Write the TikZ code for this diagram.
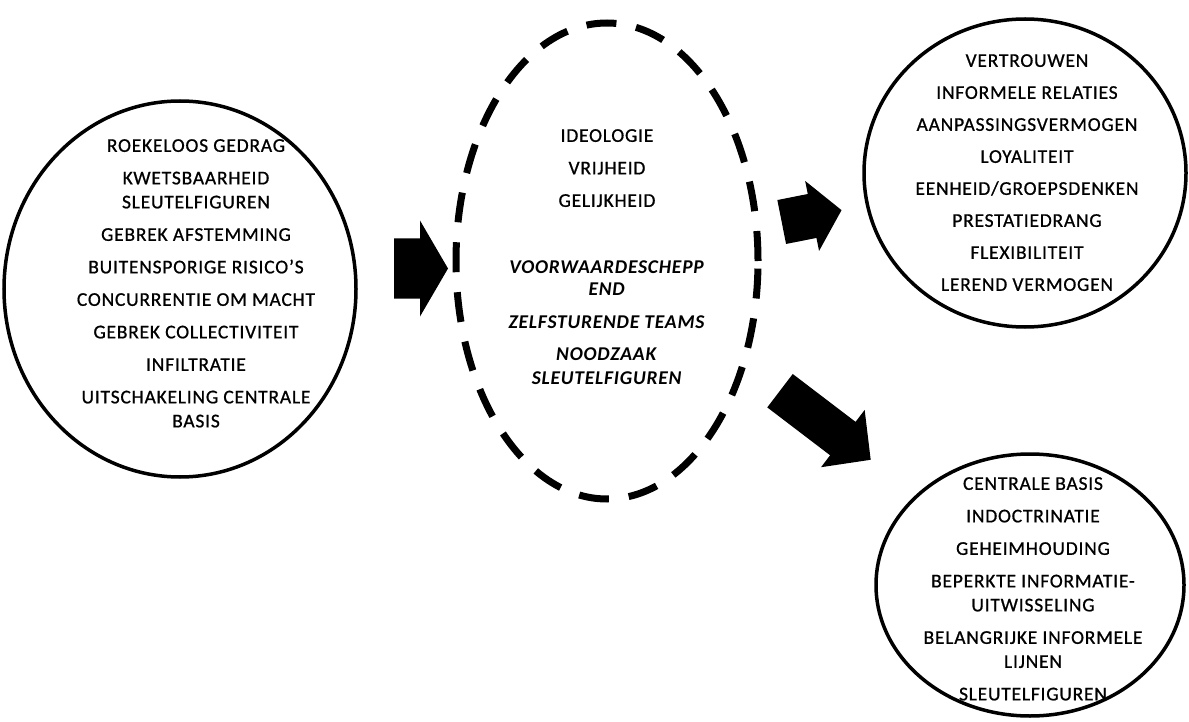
\documentclass[tikz,border=0pt]{standalone}
\usepackage{fontspec}
\setmainfont{Carlito}[LetterSpace=4, UprightFeatures={FakeBold=0.8}]
\usetikzlibrary{shapes.geometric}
\begin{document}
\begin{tikzpicture}[x=1pt,y=-1pt,
  ring/.style={draw, ellipse, line width=3.5pt, inner sep=0pt},
  dashring/.style={draw, ellipse, line width=7pt, dash pattern=on 30pt off 20pt, inner sep=0pt},
  itemlist/.style={align=center, anchor=north, inner sep=0pt, font=\fontsize{19.5}{24}\selectfont},
  pics/blockarrow/.style n args={4}{code={
    \fill (0,-#2) -- (#1,-#2) -- (#1,-#4) -- ({#1+#3},0) -- (#1,#4) -- (#1,#2) -- (0,#2) -- cycle;}}
]
\useasboundingbox (0,0) rectangle (1189,722);

% the four groups
\node[ring, minimum width=352pt, minimum height=376pt] (risks) at (180,289) {};
\node[dashring, minimum width=302pt, minimum height=476pt] (values) at (607,261) {};
\node[ring, minimum width=322pt, minimum height=308pt] (strengths) at (1025,173) {};
\node[ring, minimum width=308pt, minimum height=262pt] (structure) at (1030,585) {};

% block arrows between the groups
\pic (arrowA) at (394,268.5) {blockarrow={26}{30}{28}{48}};
\pic[rotate=11.2] (arrowB) at (781.7,222) {blockarrow={31}{22.4}{30}{35.7}};
\pic[rotate=-37.3] (arrowC) at (780,390.7) {blockarrow={79}{21}{35}{36}};

% texts
\node[itemlist] (risktext) at (196,139) {%
ROEKELOOS GEDRAG\\[8.5pt]
KWETSBAARHEID\\
SLEUTELFIGUREN\\[8.5pt]
GEBREK AFSTEMMING\\[8.5pt]
BUITENSPORIGE RISICO'S\\[8.5pt]
CONCURRENTIE OM MACHT\\[8.5pt]
GEBREK COLLECTIVITEIT\\[8.5pt]
INFILTRATIE\\[8.5pt]
UITSCHAKELING CENTRALE\\
BASIS};

\node[itemlist] (valuetext) at (607,129) {%
IDEOLOGIE\\[8.5pt]
VRIJHEID\\[8.5pt]
GELIJKHEID\\[43pt]
\textbf{\textit{VOORWAARDESCHEPP}}\\[-2pt]
\textbf{\textit{END}}\\[8.5pt]
\textbf{\textit{ZELFSTURENDE TEAMS}}\\[8.5pt]
\textbf{\textit{NOODZAAK}}\\
\textbf{\textit{SLEUTELFIGUREN}}};

\node[itemlist] (strengthtext) at (1027,54) {%
VERTROUWEN\\[8pt]
INFORMELE RELATIES\\[8pt]
AANPASSINGSVERMOGEN\\[8pt]
LOYALITEIT\\[8pt]
EENHEID/GROEPSDENKEN\\[8pt]
PRESTATIEDRANG\\[8pt]
FLEXIBILITEIT\\[8pt]
LEREND VERMOGEN};

\node[itemlist] (structuretext) at (1033,477) {%
CENTRALE BASIS\\[8.5pt]
INDOCTRINATIE\\[8.5pt]
GEHEIMHOUDING\\[8.5pt]
BEPERKTE INFORMATIE-\\
UITWISSELING\\[8.5pt]
BELANGRIJKE INFORMELE\\
LIJNEN\\[8.5pt]
SLEUTELFIGUREN};
\end{tikzpicture}
\end{document}
